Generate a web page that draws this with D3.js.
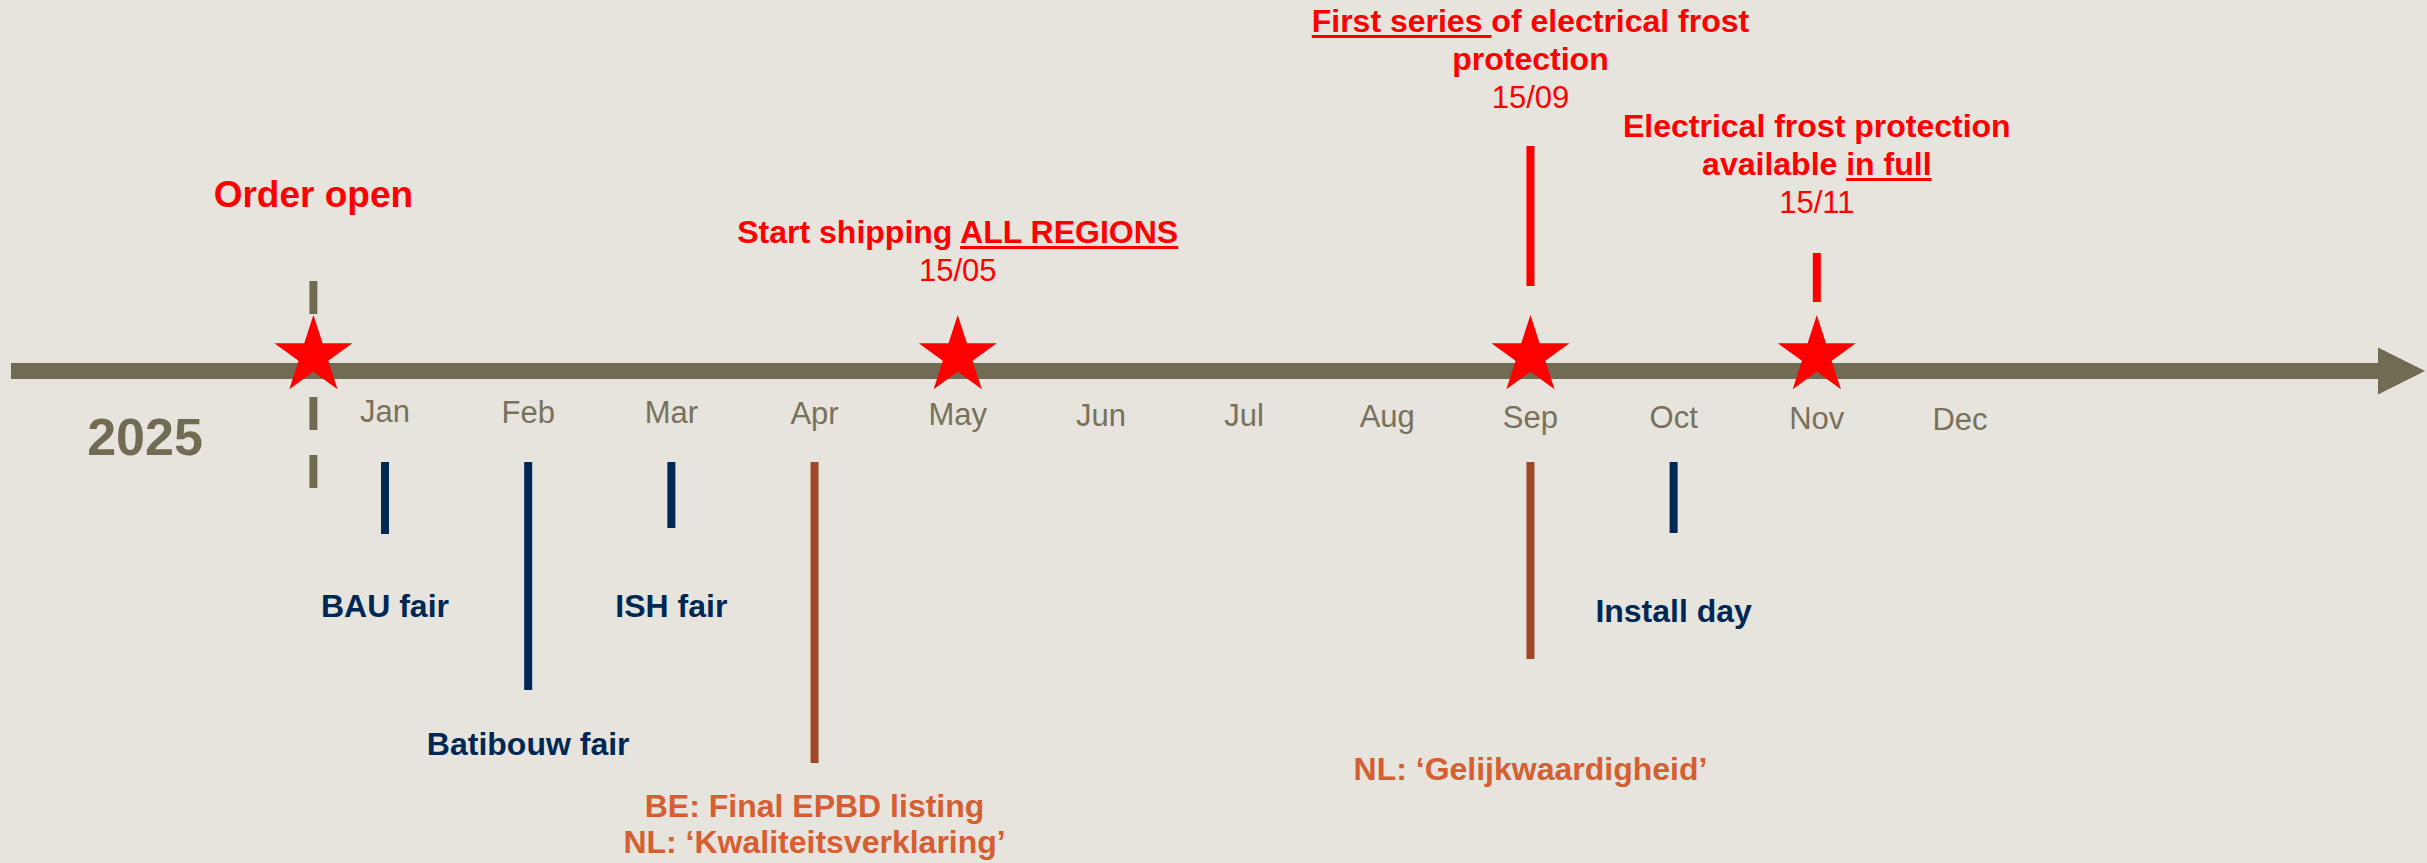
<!DOCTYPE html>
<html>
<head>
<meta charset="utf-8">
<script src="https://cdn.jsdelivr.net/npm/d3@7"></script>
<style>
  html, body { margin: 0; padding: 0; background: #e7e4dd; }
  svg { display: block; }
  text { font-family: 'Liberation Sans', Arial, sans-serif; }
</style>
</head>
<body>
<div id="chart"></div>
<script>
// ── Data ──────────────────────────────────────────────────────────────────────
var months = ['Jan', 'Feb', 'Mar', 'Apr', 'May', 'Jun', 'Jul', 'Aug', 'Sep', 'Oct', 'Nov', 'Dec'];
var yearLabel = '2025';

// Milestones above the axis (stars). Month index: 0 = mid Jan, -0.5 = 1 Jan
var milestoneMonth = [-0.5, 4, 8, 10];
var milestoneTitle = [
  [[{ t: 'Order open' }]],
  [[{ t: 'Start shipping ' }, { t: 'ALL REGIONS', u: true }]],
  [[{ t: 'First series ', u: true }, { t: 'of electrical frost' }], [{ t: 'protection' }]],
  [[{ t: 'Electrical frost protection' }], [{ t: 'available ' }, { t: 'in full', u: true }]]
];
var milestoneDate = ['', '15/05', '15/09', '15/11'];
var milestoneStem = ['dashed', 'none', 'solid', 'solid'];

// Events below the axis
var eventMonth = [0, 1, 2, 3, 8, 9];
var eventKind  = ['fair', 'fair', 'fair', 'regulation', 'regulation', 'fair'];
var eventLabel = [
  ['BAU fair'],
  ['Batibouw fair'],
  ['ISH fair'],
  ['BE: Final EPBD listing', 'NL: \u2018Kwaliteitsverklaring\u2019'],
  ['NL: \u2018Gelijkwaardigheid\u2019'],
  ['Install day']
];

// ── Layout ────────────────────────────────────────────────────────────────────
var W = 2427, H = 863;
var axisY = 371;
var AXIS = '#726b53', MONTH = '#78715c', RED = '#ff0000';
var KIND_LINE = { fair: '#002855', regulation: '#a04828' };
var KIND_TEXT = { fair: '#002855', regulation: '#d55f32' };

// vertical placement of each milestone's text block / stem
var msLayout = [
  { top: 207, size: 37, stemTop: 281, stemEnd: 489 },
  { top: 243, size: 32 },
  { top: 32,  size: 32, stemTop: 146, stemEnd: 286 },
  { top: 137, size: 32, stemTop: 253, stemEnd: 302 }
];
// line end and label baseline for each event below the axis
var evLayout = [
  { end: 534, label: 617 },
  { end: 690, label: 755 },
  { end: 528, label: 617 },
  { end: 763, label: 817 },
  { end: 659, label: 780 },
  { end: 533, label: 622 }
];
var LINE_H = 38;

var x = d3.scaleLinear().domain([0, 11]).range([385, 1960]);

var svg = d3.select('#chart').append('svg')
  .attr('width', W).attr('height', H)
  .attr('viewBox', '0 0 ' + W + ' ' + H);

svg.append('rect').attr('width', W).attr('height', H).attr('fill', '#e7e4dd');

// ── Below-axis events ─────────────────────────────────────────────────────────
var events = eventMonth.map(function(m, i) {
  return { month: m, kind: eventKind[i], label: eventLabel[i], lay: evLayout[i] };
});

svg.append('g').selectAll('line')
  .data(events)
  .enter().append('line')
  .attr('x1', function(d) { return x(d.month); })
  .attr('x2', function(d) { return x(d.month); })
  .attr('y1', 462)
  .attr('y2', function(d) { return d.lay.end; })
  .attr('stroke', function(d) { return KIND_LINE[d.kind]; })
  .attr('stroke-width', 8);

var evText = svg.append('g').selectAll('text')
  .data(events)
  .enter().append('text')
  .attr('text-anchor', 'middle')
  .attr('font-size', 32)
  .attr('font-weight', 'bold')
  .attr('fill', function(d) { return KIND_TEXT[d.kind]; });

evText.selectAll('tspan')
  .data(function(d) { return d.label.map(function(t, j) { return { t: t, j: j, p: d }; }); })
  .enter().append('tspan')
  .attr('x', function(d) { return x(d.p.month); })
  .attr('y', function(d) { return d.p.lay.label + d.j * 36; })
  .text(function(d) { return d.t; });

// ── Milestone stems (drawn under axis/stars) ──────────────────────────────────
var milestones = milestoneMonth.map(function(m, i) {
  return { month: m, title: milestoneTitle[i], date: milestoneDate[i], stem: milestoneStem[i], lay: msLayout[i] };
});

svg.append('g').selectAll('line')
  .data(milestones.filter(function(d) { return d.stem !== 'none'; }))
  .enter().append('line')
  .attr('x1', function(d) { return x(d.month); })
  .attr('x2', function(d) { return x(d.month); })
  .attr('y1', function(d) { return d.lay.stemTop; })
  .attr('y2', function(d) { return d.lay.stemEnd; })
  .attr('stroke', function(d) { return d.stem === 'dashed' ? AXIS : RED; })
  .attr('stroke-width', 8)
  .attr('stroke-dasharray', function(d) { return d.stem === 'dashed' ? '33,25' : null; });

// ── Axis with arrow ───────────────────────────────────────────────────────────
var axisStart = 11, arrowBase = 2378, arrowTip = 2425;
svg.append('rect')
  .attr('x', axisStart).attr('y', axisY - 8)
  .attr('width', arrowBase - axisStart + 1).attr('height', 16)
  .attr('fill', AXIS);
svg.append('path')
  .attr('d', 'M' + arrowBase + ',' + (axisY - 23.5) + 'L' + arrowTip + ',' + axisY + 'L' + arrowBase + ',' + (axisY + 23.5) + 'Z')
  .attr('fill', AXIS);

// month labels
svg.append('g').selectAll('text')
  .data(months)
  .enter().append('text')
  .attr('x', function(d, i) { return x(i); })
  .attr('y', function(d, i) { return 422 + i * 0.7; })
  .attr('text-anchor', 'middle')
  .attr('font-size', 31)
  .attr('fill', MONTH)
  .text(function(d) { return d; });

svg.append('text')
  .attr('x', 145).attr('y', 455)
  .attr('text-anchor', 'middle')
  .attr('font-size', 52)
  .attr('font-weight', 'bold')
  .attr('fill', AXIS)
  .text(yearLabel);

// ── Stars ─────────────────────────────────────────────────────────────────────
var starR = 41;
var star = d3.symbol().type(d3.symbolStar).size(starR * starR / 0.8908130915292852);
svg.append('g').selectAll('path')
  .data(milestones)
  .enter().append('path')
  .attr('transform', function(d) { return 'translate(' + x(d.month) + ',' + (axisY - 15) + ')'; })
  .attr('d', star)
  .attr('fill', RED);

// ── Milestone text ────────────────────────────────────────────────────────────
var underlines = [];
milestones.forEach(function(d) {
  var cx = x(d.month);
  d.title.forEach(function(line, j) {
    var t = svg.append('text')
      .attr('x', cx).attr('y', d.lay.top + j * LINE_H)
      .attr('text-anchor', 'middle')
      .attr('font-size', d.lay.size)
      .attr('font-weight', 'bold')
      .attr('fill', RED)
      .style('white-space', 'pre');
    line.forEach(function(seg) {
      var ts = t.append('tspan').text(seg.t);
      if (seg.u) underlines.push({ node: ts.node(), y: d.lay.top + j * LINE_H });
    });
  });
  if (d.date) {
    svg.append('text')
      .attr('x', cx).attr('y', d.lay.top + d.title.length * LINE_H)
      .attr('text-anchor', 'middle')
      .attr('font-size', 31)
      .attr('fill', RED)
      .text(d.date);
  }
});

underlines.forEach(function(u) {
  var sx = u.node.getStartPositionOfChar(0).x;
  var w = u.node.getComputedTextLength();
  svg.append('rect')
    .attr('x', sx).attr('y', u.y + 3)
    .attr('width', w).attr('height', 3)
    .attr('fill', RED);
});
</script>
</body>
</html>
